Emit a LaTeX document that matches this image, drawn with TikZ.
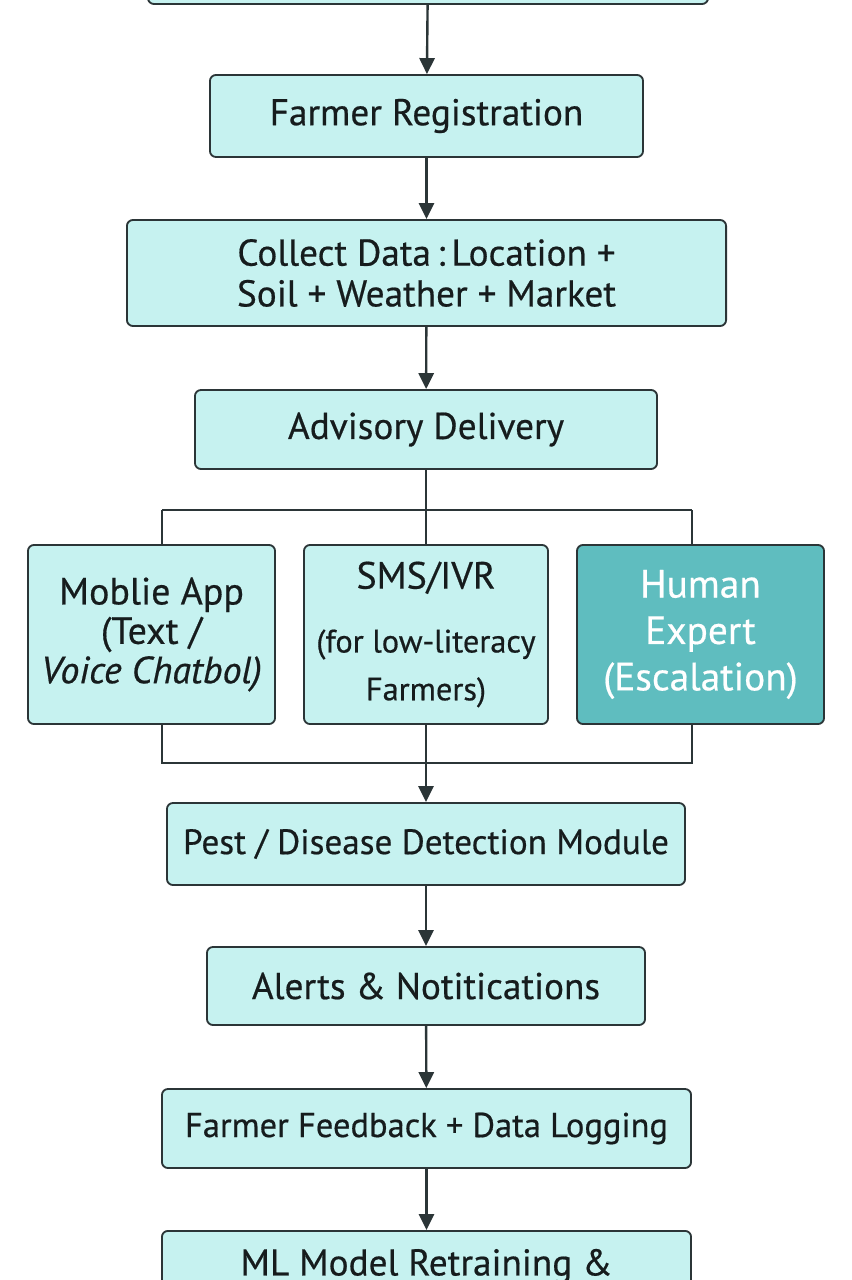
\documentclass[tikz,border=0pt]{standalone}
\usepackage{fontspec}
\setmainfont{PT Sans}[FakeBold=0.5]
\usetikzlibrary{arrows.meta}
\definecolor{boxfill}{HTML}{C6F2F0}
\definecolor{expertfill}{HTML}{5FBDBF}
\definecolor{edge}{HTML}{2B3537}
\definecolor{ink}{HTML}{161C1D}
\tikzset{
    stage/.style={draw=edge, fill=boxfill, rounded corners=0.15cm, line width=1.3pt,
      align=center, text=ink, font=\fontsize{26.5}{29}\selectfont},
    expert/.style={stage, fill=expertfill, text=white},
    flow/.style={draw=edge, line width=1.7pt, -{Triangle[length=0.4cm, width=0.38cm]}},
    link/.style={draw=edge, line width=0.9pt}
}

\begin{document}
\begin{tikzpicture}[x=0.025cm, y=-0.025cm]
    \useasboundingbox (0,0) rectangle (852,1280);

    \node [stage, minimum width=14cm, minimum height=2cm] (top) at (428,-36) {};
    \node [stage, minimum width=10.825cm, minimum height=2.05cm] (reg) at (426.5,116) {Farmer Registration};
    \node [stage, minimum width=14.975cm, minimum height=2.65cm] (collect) at (426.5,273)
      {Collect Data\,:\,Location +\\Soil + Weather + Market};
    \node [stage, minimum width=11.55cm, minimum height=1.975cm] (adv) at (426,429.5) {Advisory Delivery};

    % delivery channels
    \node [stage, minimum width=6.175cm, minimum height=4.475cm, font=\fontsize{27}{28}\selectfont] (app) at (151.5,634.5)
      {Moblie App\\(Text /\\\textit{Voice Chatbol)}};
    \node [stage, minimum width=6.1cm, minimum height=4.475cm, font=\fontsize{23}{34}\selectfont] (sms) at (426,634.5)
      {{\fontsize{27}{34}\selectfont SMS/IVR}\\[0.4cm](for low-literacy\\Farmers)};
    \node [expert, minimum width=6.175cm, minimum height=4.475cm, font=\fontsize{28}{33}\selectfont] (human) at (700.5,634.5)
      {Human\\Expert\\(Escalation)};

    \node [stage, minimum width=12.95cm, minimum height=2.05cm, font=\fontsize{25}{29}\selectfont] (pest) at (426,844)
      {Pest / Disease Detection Module};
    \node [stage, minimum width=10.95cm, minimum height=1.95cm] (alerts) at (426,986) {Alerts \& Notitications};
    \node [stage, minimum width=13.225cm, minimum height=1.975cm, font=\fontsize{24.5}{29}\selectfont] (feedback) at (426.5,1128.5)
      {Farmer Feedback + Data Logging};
    \node [stage, minimum width=13.225cm, anchor=north, inner ysep=0.45cm] (ml) at (426.5,1230)
      {ML Model Retraining \&};

    \coordinate (split) at (426,510);
    \coordinate (splitL) at (162,510);
    \coordinate (splitR) at (692,510);
    \coordinate (joinL) at (162,763);
    \coordinate (joinR) at (692,763);

    \draw [flow] (top) -- (reg);
    \draw [flow] (reg) -- (collect);
    \draw [flow] (collect) -- (adv);

    \draw [link] (adv) -- (split);
    \draw [link] (splitL) -- (splitR);
    \draw [link] (splitL) -- (splitL |- app.north);
    \draw [link] (split) -- (sms);
    \draw [link] (splitR) -- (splitR |- human.north);

    \draw [link] (joinL |- app.south) -- (joinL) -- (joinR) -- (joinR |- human.south);
    \draw [flow] (sms) -- (pest);

    \draw [flow] (pest) -- (alerts);
    \draw [flow] (alerts) -- (feedback);
    \draw [flow] (feedback) -- (ml);
\end{tikzpicture}
\end{document}
